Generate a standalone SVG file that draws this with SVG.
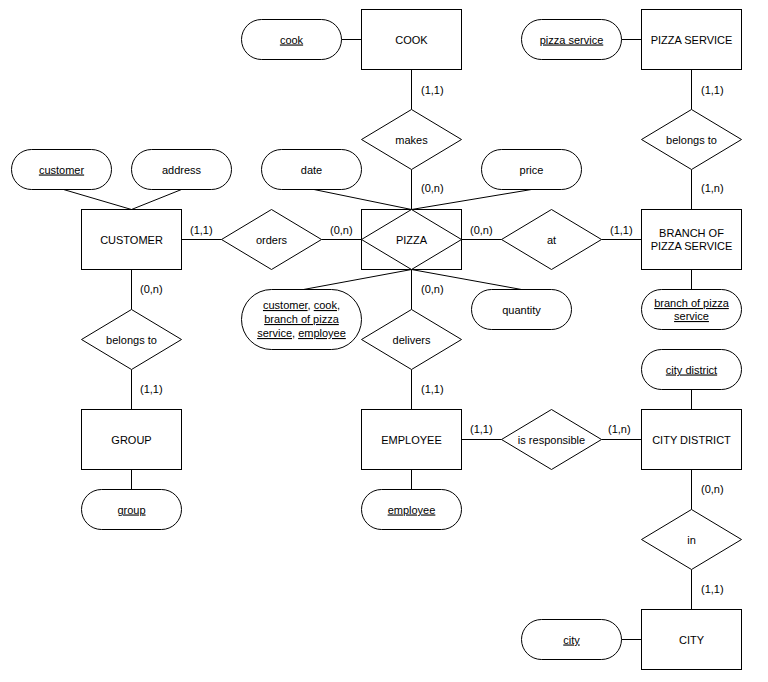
<svg xmlns="http://www.w3.org/2000/svg" width="768" height="682" viewBox="0 0 768 682">
<style>
.e{fill:#fff;stroke:#000;stroke-width:1}
.a{fill:#fff;stroke:#000;stroke-width:1}
.r{fill:#fff;stroke:#000;stroke-width:1}
.c{fill:none;stroke:#000;stroke-width:1}
text{font-family:"Liberation Sans",Arial,sans-serif;font-size:11px;fill:#000}
.m{text-anchor:middle}
.u{text-decoration:underline}
</style>
<rect width="768" height="682" fill="#fff"/>
<g id="connectors">
<path class="c" d="M341.5 39.5H361.5M411.5 69.5V109.5M411.5 169.5V209.5"/>
<path class="c" d="M621.5 39.5H641.5M691.5 69.5V109.5M691.5 169.5V209.5M691.5 269.5V289.5"/>
<path class="c" d="M63.5 189.5L131.5 209.5M181.5 189.5L131.5 209.5"/>
<path class="c" d="M314 189.5L411.5 209.5M531.5 189.5L411.5 209.5"/>
<path class="c" d="M181.5 239.5H221.5M321.5 239.5H361.5M461.5 239.5H501.5M601.5 239.5H641.5"/>
<path class="c" d="M411.5 269.5L303.5 289.5M411.5 269.5L521.5 289.5M411.5 269.5V309.5M411.5 369.5V409.5M411.5 469.5V489.5"/>
<path class="c" d="M131.5 269.5V309.5M131.5 369.5V409.5M131.5 469.5V489.5"/>
<path class="c" d="M461.5 439.5H501.5M601.5 439.5H641.5M691.5 389.5V409.5M691.5 469.5V509.5M691.5 569.5V609.5M621.5 639.5H641.5"/>
<text x="421" y="94">(1,1)</text>
<text x="421" y="192">(0,n)</text>
<text x="701" y="94">(1,1)</text>
<text x="701" y="192">(1,n)</text>
<text x="190" y="234">(1,1)</text>
<text x="330" y="234">(0,n)</text>
<text x="470" y="234">(0,n)</text>
<text x="610" y="234">(1,1)</text>
<text x="140" y="293">(0,n)</text>
<text x="140" y="393">(1,1)</text>
<text x="421" y="293">(0,n)</text>
<text x="421" y="393">(1,1)</text>
<text x="470" y="433">(1,1)</text>
<text x="608" y="433">(1,n)</text>
<text x="701" y="493">(0,n)</text>
<text x="701" y="593">(1,1)</text>
</g>
<g id="cook-attr"><rect class="a" x="241.5" y="19.5" width="100" height="40" rx="20"/><text class="m u" x="291.5" y="43.5">cook</text></g>
<g id="cook"><rect class="e" x="361.5" y="9.5" width="100" height="60"/><text class="m" x="411.5" y="43.5">COOK</text></g>
<g id="makes"><path class="r" d="M411.5 109.5L461.5 139.5L411.5 169.5L361.5 139.5Z"/><text class="m" x="411.5" y="143.5">makes</text></g>
<g id="pizza-service-attr"><rect class="a" x="521.5" y="19.5" width="100" height="40" rx="20"/><text class="m u" x="571.5" y="43.5">pizza service</text></g>
<g id="pizza-service"><rect class="e" x="641.5" y="9.5" width="100" height="60"/><text class="m" x="691.5" y="43.5">PIZZA SERVICE</text></g>
<g id="belongs-to-1"><path class="r" d="M691.5 109.5L741.5 139.5L691.5 169.5L641.5 139.5Z"/><text class="m" x="691.5" y="143.5">belongs to</text></g>
<g id="customer-attr"><rect class="a" x="11.5" y="149.5" width="100" height="40" rx="20"/><text class="m u" x="61.5" y="173.5">customer</text></g>
<g id="address"><rect class="a" x="131.5" y="149.5" width="100" height="40" rx="20"/><text class="m" x="181.5" y="173.5">address</text></g>
<g id="date"><rect class="a" x="261.5" y="149.5" width="100" height="40" rx="20"/><text class="m" x="311.5" y="173.5">date</text></g>
<g id="price"><rect class="a" x="481.5" y="149.5" width="100" height="40" rx="20"/><text class="m" x="531.5" y="173.5">price</text></g>
<g id="customer"><rect class="e" x="81.5" y="209.5" width="100" height="60"/><text class="m" x="131.5" y="243.5">CUSTOMER</text></g>
<g id="orders"><path class="r" d="M271.5 209.5L321.5 239.5L271.5 269.5L221.5 239.5Z"/><text class="m" x="271.5" y="243.5">orders</text></g>
<g id="pizza"><rect class="e" x="361.5" y="209.5" width="100" height="60"/><path class="r" d="M411.5 209.5L461.5 239.5L411.5 269.5L361.5 239.5Z"/><text class="m" x="411.5" y="243.5">PIZZA</text></g>
<g id="at"><path class="r" d="M551.5 209.5L601.5 239.5L551.5 269.5L501.5 239.5Z"/><text class="m" x="551.5" y="243.5">at</text></g>
<g id="branch"><rect class="e" x="641.5" y="209.5" width="100" height="60"/><text class="m" x="691.5" y="236.5">BRANCH OF</text><text class="m" x="691.5" y="250">PIZZA SERVICE</text></g>
<g id="branch-attr"><rect class="a" x="641.5" y="289.5" width="100" height="40" rx="20"/><text class="m u" x="691.5" y="307">branch of pizza</text><text class="m u" x="691.5" y="320">service</text></g>
<g id="pizza-key"><rect class="a" x="241.5" y="289.5" width="120" height="60" rx="30"/><text class="m" x="301.5" y="309"><tspan class="u">customer</tspan>, <tspan class="u">cook</tspan>,</text><text class="m u" x="301.5" y="323">branch of pizza</text><text class="m" x="301.5" y="337"><tspan class="u">service</tspan>, <tspan class="u">employee</tspan></text></g>
<g id="quantity"><rect class="a" x="471.5" y="289.5" width="100" height="40" rx="20"/><text class="m" x="521.5" y="313.5">quantity</text></g>
<g id="belongs-to-2"><path class="r" d="M131.5 309.5L181.5 339.5L131.5 369.5L81.5 339.5Z"/><text class="m" x="131.5" y="343.5">belongs to</text></g>
<g id="delivers"><path class="r" d="M411.5 309.5L461.5 339.5L411.5 369.5L361.5 339.5Z"/><text class="m" x="411.5" y="343.5">delivers</text></g>
<g id="city-district-attr"><rect class="a" x="641.5" y="349.5" width="100" height="40" rx="20"/><text class="m u" x="691.5" y="373.5">city district</text></g>
<g id="group"><rect class="e" x="81.5" y="409.5" width="100" height="60"/><text class="m" x="131.5" y="443.5">GROUP</text></g>
<g id="employee"><rect class="e" x="361.5" y="409.5" width="100" height="60"/><text class="m" x="411.5" y="443.5">EMPLOYEE</text></g>
<g id="is-responsible"><path class="r" d="M551.5 409.5L601.5 439.5L551.5 469.5L501.5 439.5Z"/><text class="m" x="551.5" y="443.5">is responsible</text></g>
<g id="city-district"><rect class="e" x="641.5" y="409.5" width="100" height="60"/><text class="m" x="691.5" y="443.5">CITY DISTRICT</text></g>
<g id="group-attr"><rect class="a" x="81.5" y="489.5" width="100" height="40" rx="20"/><text class="m u" x="131.5" y="513.5">group</text></g>
<g id="employee-attr"><rect class="a" x="361.5" y="489.5" width="100" height="40" rx="20"/><text class="m u" x="411.5" y="513.5">employee</text></g>
<g id="in"><path class="r" d="M691.5 509.5L741.5 539.5L691.5 569.5L641.5 539.5Z"/><text class="m" x="691.5" y="543.5">in</text></g>
<g id="city-attr"><rect class="a" x="521.5" y="619.5" width="100" height="40" rx="20"/><text class="m u" x="571.5" y="643.5">city</text></g>
<g id="city"><rect class="e" x="641.5" y="609.5" width="100" height="60"/><text class="m" x="691.5" y="643.5">CITY</text></g>
</svg>
